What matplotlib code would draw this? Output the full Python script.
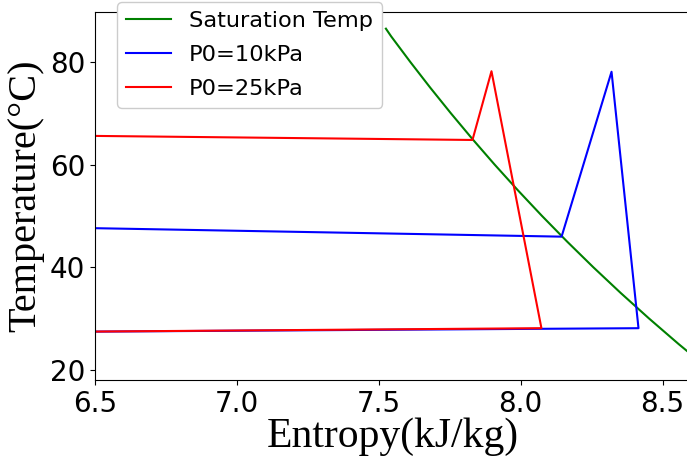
import matplotlib
matplotlib.use("Agg")
import matplotlib.pyplot as plt

# Saturation curve (entropy of saturated vapour vs temperature)
sat_s = [7.525, 7.5435, 7.6111, 7.6812, 7.7540, 7.8296, 7.9081, 7.9898, 8.0748,
         8.1633, 8.2555, 8.3517, 8.4520, 8.5566, 8.6660]
sat_T = [86.5, 85, 80, 75, 70, 65, 60, 55, 50, 45, 40, 35, 30, 25, 20]

# P0 = 10 kPa cycle
p10_s = [6.4, 8.144, 8.320, 8.415, 6.4]
p10_T = [47.7, 45.95, 78.1, 28.1, 27.4]

# P0 = 25 kPa cycle
p25_s = [6.4, 7.830, 7.897, 8.073, 6.4]
p25_T = [65.65, 64.8, 78.2, 28.1, 27.4]

fig = plt.figure(figsize=(6.87, 4.59), dpi=100)
ax = fig.add_axes([95/687, 79/459, 596/687, 368/459])

ax.plot(sat_s, sat_T, color='g', lw=1.5, label='Saturation Temp')
ax.plot(p10_s, p10_T, color='b', lw=1.5, label='P0=10kPa')
ax.plot(p25_s, p25_T, color='r', lw=1.5, label='P0=25kPa')

ax.set_xlim(6.5, 8.6)
ax.set_ylim(18.0, 89.75)
ax.set_xticks([6.5, 7.0, 7.5, 8.0, 8.5])
ax.set_yticks([20, 40, 60, 80])
ax.tick_params(labelsize=20)

ax.set_xlabel('Entropy(kJ/kg)', family='Liberation Serif', fontsize=30, labelpad=0)
ax.set_ylabel('Temperature(°C)', family='Liberation Serif', fontsize=29, labelpad=4)

leg = ax.legend(loc='upper left', bbox_to_anchor=(22/596, 1 + 10/368),
                borderaxespad=0, fontsize=16.2, framealpha=1, labelspacing=0.62)

fig.savefig('out.png', dpi=100)
